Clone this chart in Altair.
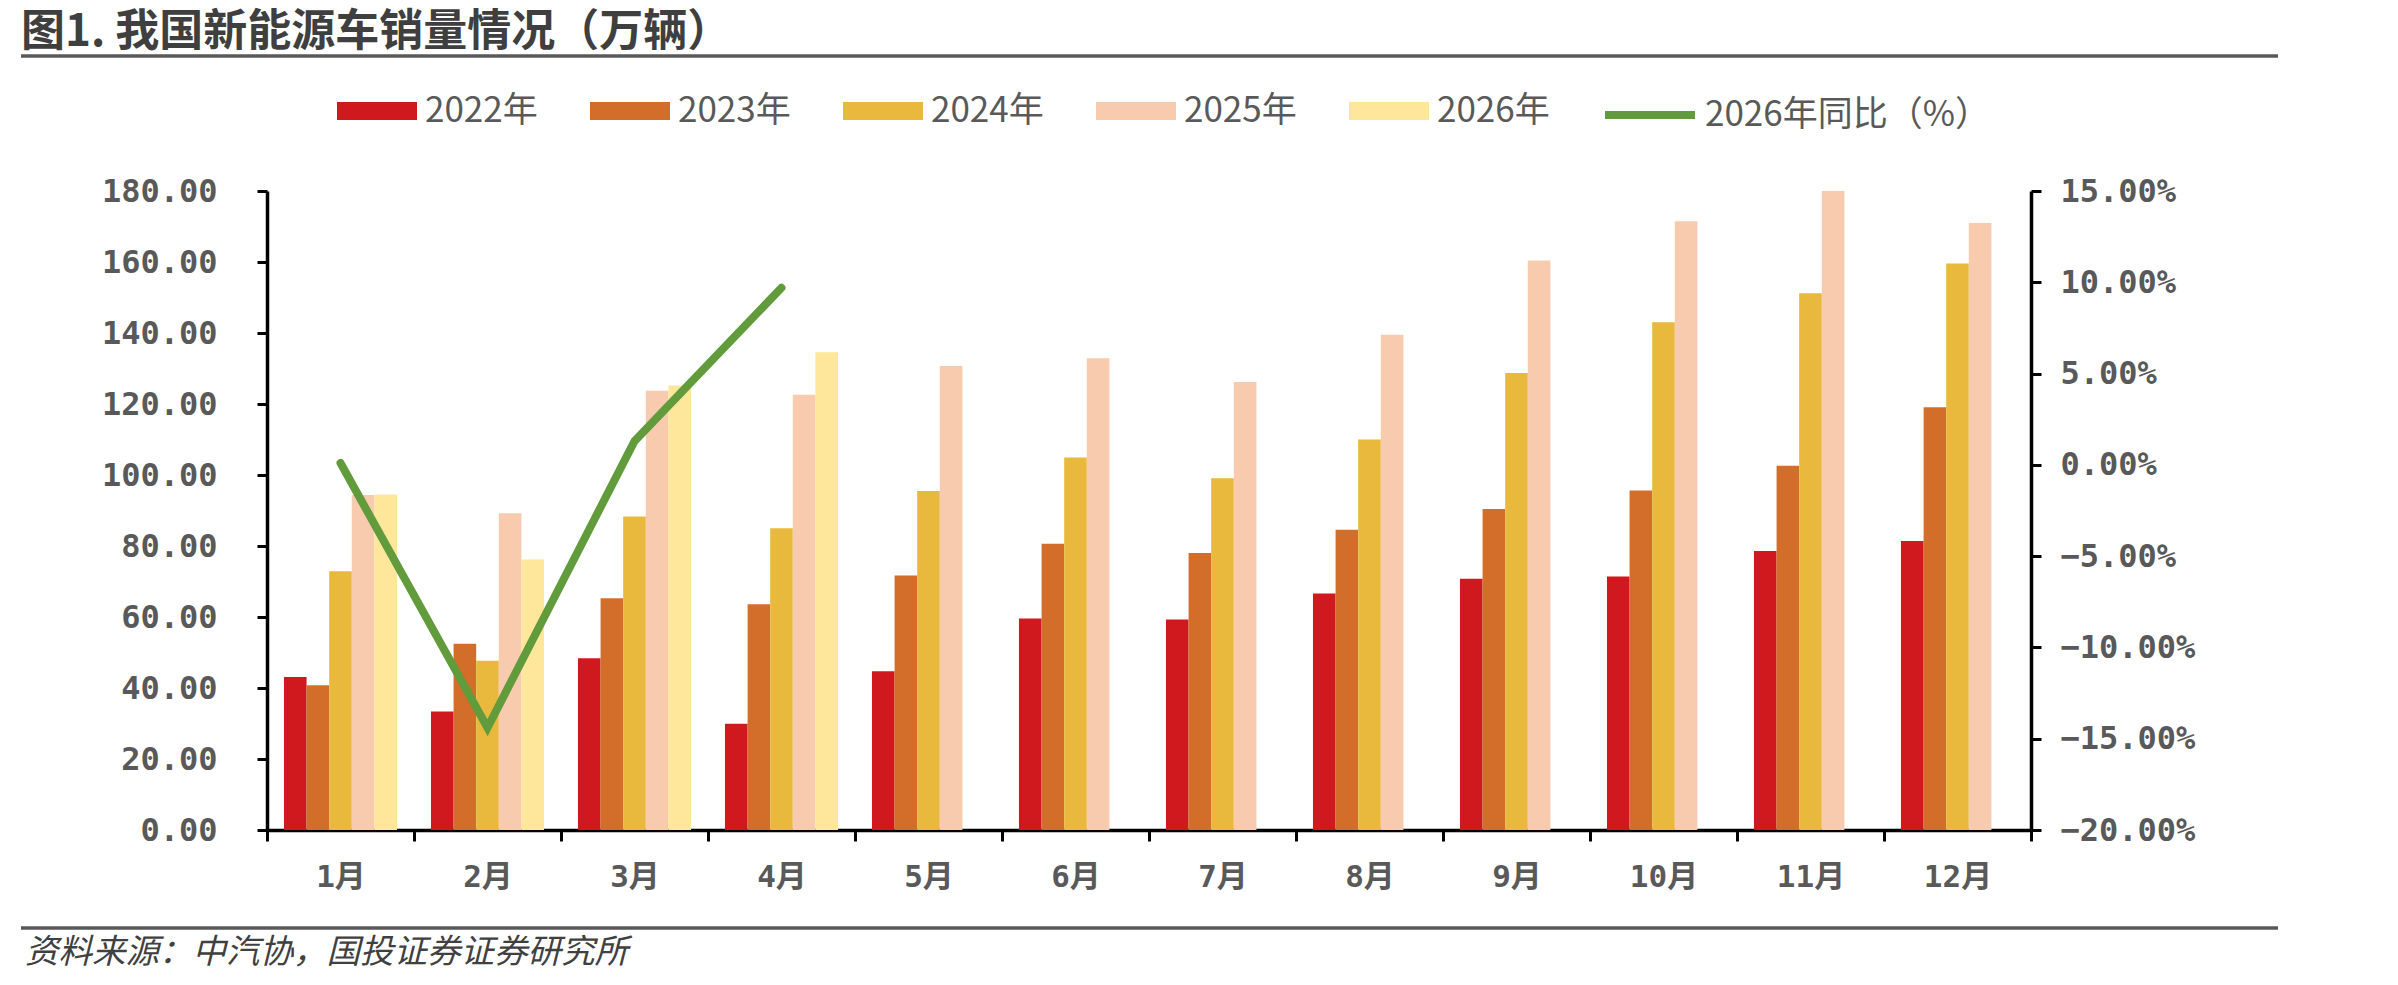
import altair as alt
import pandas as pd

# ---------------- data ----------------
months = ["1月", "2月", "3月", "4月", "5月", "6月", "7月", "8月", "9月", "10月", "11月", "12月"]
years = ["2022年", "2023年", "2024年", "2025年", "2026年"]

sales_2022 = [43.1, 33.4, 48.4, 29.9, 44.7, 59.6, 59.3, 66.6, 70.8, 71.4, 78.6, 81.4]
sales_2023 = [40.8, 52.5, 65.3, 63.6, 71.7, 80.6, 78.0, 84.6, 90.4, 95.6, 102.6, 119.1]
sales_2024 = [72.9, 47.7, 88.3, 85.0, 95.5, 104.9, 99.1, 110.0, 128.7, 143.0, 151.2, 159.6]
sales_2025 = [94.4, 89.2, 123.7, 122.6, 130.7, 132.9, 126.2, 139.5, 160.4, 171.5, 180.0, 171.0]
sales_2026 = [94.5, 76.2, 125.2, 134.6]

yoy_label = "2026年同比（%）"
yoy_2026 = [0.001, -0.144, 0.013, 0.097]

left_ticks = [0, 20, 40, 60, 80, 100, 120, 140, 160, 180]
right_ticks = [-0.20, -0.15, -0.10, -0.05, 0.0, 0.05, 0.10, 0.15]

bar_colors = ["#D0191F", "#D26E2A", "#E8B93C", "#F8CBAE", "#FEE69A"]
line_color = "#619B3B"

title_text = "图1. 我国新能源车销量情况（万辆）"
source_text = "资料来源：中汽协，国投证券证券研究所"

# ---------------- tables ----------------
series = [sales_2022, sales_2023, sales_2024, sales_2025, sales_2026]
rows = []
for yr, vals in zip(years, series):
    for m, v in zip(months, vals):
        rows.append({"month": m, "year": yr, "value": v})
bars_df = pd.DataFrame(rows)

line_df = pd.DataFrame({
    "month": months[:len(yoy_2026)],
    "yoy": yoy_2026,
    "series": [yoy_label] * len(yoy_2026),
})

W, H = 1764, 639
AXIS_FONT = "DejaVu Sans Mono, Noto Sans CJK SC"
GRAY = "#595959"

x_enc = alt.X(
    "month:N",
    sort=months,
    scale=alt.Scale(domain=months, paddingInner=0, paddingOuter=0),
    axis=alt.Axis(
        title=None, labelAngle=0, tickBand="extent",
        domainColor="black", domainWidth=3.5,
        tickColor="black", tickWidth=3, tickSize=11,
        labelFont=AXIS_FONT, labelFontSize=31, labelFontWeight="bold",
        labelColor=GRAY, labelPadding=21, labelBaseline="top",
    ),
)

bars = alt.Chart(bars_df).mark_bar().encode(
    x=x_enc,
    xOffset=alt.XOffset("year:N", sort=years,
                        scale=alt.Scale(domain=years, paddingInner=0, paddingOuter=0.75)),
    y=alt.Y(
        "value:Q",
        scale=alt.Scale(domain=[0, 180], nice=False, zero=True),
        axis=alt.Axis(
            title=None, values=left_ticks, format=".2f", orient="left",
            grid=False, domainColor="black", domainWidth=3.5,
            tickColor="black", tickWidth=3, tickSize=10,
            labelFont=AXIS_FONT, labelFontSize=32, labelFontWeight="bold",
            labelColor=GRAY, labelPadding=40,
        ),
    ),
    color=alt.Color(
        "year:N",
        sort=years,
        scale=alt.Scale(domain=years, range=bar_colors),
        legend=alt.Legend(
            title=None, orient="none", legendX=70, legendY=-120,
            direction="horizontal", columns=5,
            symbolType="M-1,-0.225H1V0.225H-1Z", symbolSize=6400,
            symbolStrokeWidth=0, columnPadding=52, labelOffset=8,
            labelFont="Noto Sans CJK SC", labelFontSize=35, labelColor=GRAY,
            labelLimit=400, padding=0,
        ),
    ),
)

line = alt.Chart(line_df).mark_line(strokeWidth=8, strokeCap="round", strokeJoin="miter").encode(
    x=alt.X("month:N", sort=months),
    y=alt.Y(
        "yoy:Q",
        scale=alt.Scale(domain=[-0.20, 0.15], nice=False, zero=False),
        axis=alt.Axis(
            title=None, values=right_ticks, format=".2%", orient="right",
            grid=False, domainColor="black", domainWidth=3.5,
            tickColor="black", tickWidth=3, tickSize=10,
            labelFont=AXIS_FONT, labelFontSize=32, labelFontWeight="bold",
            labelColor=GRAY, labelPadding=19,
        ),
    ),
    stroke=alt.Stroke(
        "series:N",
        scale=alt.Scale(domain=[yoy_label], range=[line_color]),
        legend=alt.Legend(
            title=None, orient="none", legendX=1334, legendY=-125,
            symbolType="stroke", symbolSize=8100, symbolStrokeWidth=8,
            labelOffset=6, labelLimit=600,
            labelFont="Noto Sans CJK SC", labelFontSize=35, labelColor=GRAY,
            padding=0,
        ),
    ),
)

one = pd.DataFrame({"k": [0]})

title = alt.Chart(pd.DataFrame({"t": [title_text]})).mark_text(
    align="left", baseline="middle", font="Noto Sans CJK SC",
    fontSize=44, fontWeight="bold", color="#3F3F3F",
).encode(text="t:N", x=alt.value(-246), y=alt.value(-158))

title_rule = alt.Chart(one).mark_rule(color=GRAY, strokeWidth=3.5).encode(
    x=alt.value(-246), x2=alt.value(2011), y=alt.value(-135)
)

foot_rule = alt.Chart(one).mark_rule(color=GRAY, strokeWidth=3.5).encode(
    x=alt.value(-246), x2=alt.value(2011), y=alt.value(737)
)

footer = alt.Chart(pd.DataFrame({"t": [source_text]})).mark_text(
    align="left", baseline="middle", font="Noto Sans CJK SC",
    fontSize=33.5, fontStyle="italic", color="#404040",
).encode(text="t:N", x=alt.value(-242), y=alt.value(762))

chart = (
    alt.layer(bars, line, title, title_rule, foot_rule, footer)
    .resolve_scale(y="independent")
    .properties(
        width=W, height=H,
        autosize=alt.AutoSizeParams(type="none"),
        padding={"left": 267, "top": 191, "right": 367, "bottom": 155},
        background="white",
    )
    .configure_view(strokeWidth=0)
)

chart.save("out.html", embed_options={"renderer": "svg", "actions": False})
